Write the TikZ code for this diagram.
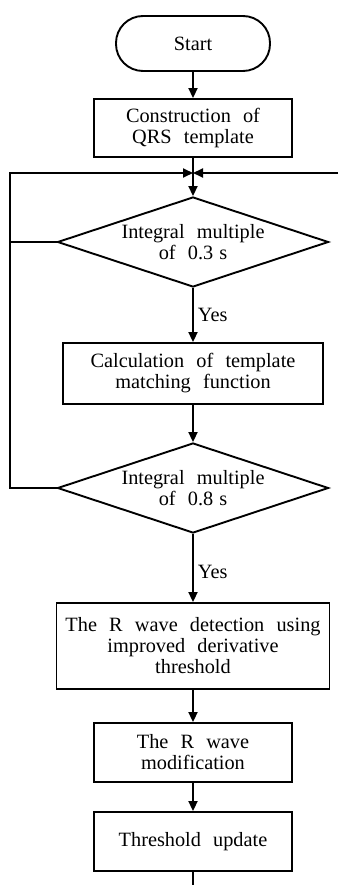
\documentclass[tikz,border=0pt]{standalone}
\usepackage{fontspec}
\setmainfont{Liberation Serif}
\usetikzlibrary{arrows.meta,shapes.geometric}
\newcommand\myfnt{\fontsize{20.3}{21}\selectfont\spaceskip=0.6em\relax}
\begin{document}
\begin{tikzpicture}[x=1pt,y=-1pt,
  every node/.style={font=\myfnt},
  box/.style={draw,line width=1.9pt,rectangle,inner sep=0pt,align=center},
  term/.style={box,rounded corners=27pt},
  decide/.style={draw,line width=1.9pt,diamond,aspect=3,inner sep=0pt,align=center,minimum width=271pt,minimum height=90pt},
  flow/.style={line width=1.9pt,-{Triangle[length=10pt,width=9pt]}},
  plain/.style={line width=1.9pt},
  lbl/.style={anchor=west,inner sep=0pt}]
\useasboundingbox (0,0) rectangle (338,885);
\node[term,minimum width=154pt,minimum height=55pt] (start) at (193,43.5) {Start};
\node[box,minimum width=198pt,minimum height=58pt] (b1) at (193,128) {Construction of\\QRS template};
\node[decide] (d1) at (193,242) {Integral multiple\\of 0.3\hspace{0.3em}s};
\node[box,minimum width=260pt,minimum height=61pt] (b2) at (193,373.5) {Calculation of template\\matching function};
\node[decide] (d2) at (193,488) {Integral multiple\\of 0.8\hspace{0.3em}s};
\node[box,minimum width=273pt,minimum height=86pt] (b3) at (193,646) {The R wave detection using\\improved derivative\\threshold};
\node[box,minimum width=198pt,minimum height=59pt] (b4) at (193,752.5) {The R wave\\modification};
\node[box,minimum width=198pt,minimum height=59pt] (b5) at (193,841.5) {Threshold update};
\coordinate (j) at (193,173);
\coordinate (lt) at (10,173);
\coordinate (l1) at (10,242);
\coordinate (l2) at (10,488);
\coordinate (r) at (338,173);
\coordinate (e) at (193,885);
\draw[flow] (start) -- (b1);
\draw[plain] (b1) -- (j);
\draw[flow] (j) -- (d1.north);
\draw[flow] (d1.south) -- node[lbl,xshift=4pt] {Yes} (b2);
\draw[flow] (b2) -- (d2.north);
\draw[flow] (d2.south) -- node[lbl,xshift=4pt,yshift=-4pt] {Yes} (b3);
\draw[flow] (b3) -- (b4);
\draw[flow] (b4) -- (b5);
\draw[plain] (b5) -- (e);
\draw[plain] (d1.west) -- (l1);
\draw[plain,line cap=rect] (d2.west) -- (l2) -- (lt);
\draw[flow] (lt) -- (j);
\draw[flow] (r) -- (j);
\end{tikzpicture}
\end{document}
